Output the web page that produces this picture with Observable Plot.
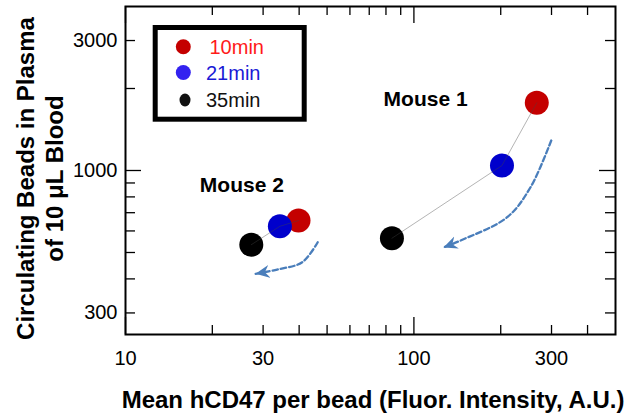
<!DOCTYPE html>
<html><head><meta charset="utf-8">
<script src="https://cdn.jsdelivr.net/npm/d3@7"></script>
<script src="https://cdn.jsdelivr.net/npm/@observablehq/plot@0.6"></script>
<style>
body{margin:0;background:#fff;font-family:"Liberation Sans",Arial,Helvetica,sans-serif}
#wrap{position:relative;width:629px;height:420px;overflow:hidden}
#legend{position:absolute;left:0;top:0;pointer-events:none}
</style></head><body><div id="wrap"></div><script>
// ---- data ----
const mice   = ["Mouse 1","Mouse 1","Mouse 1","Mouse 2","Mouse 2","Mouse 2"];
const times  = ["10min","21min","35min","10min","21min","35min"];
const hcd47  = [266.7, 202, 83.9, 39.8, 34.3, 27.3];      // Mean hCD47 per bead
const beads  = [1772, 1043, 564, 655, 624, 534];           // circulating beads

const timeColors = {"10min": "#c40000", "21min": "#0000cc", "35min": "#000000"};

const legendLabels     = ["10min", "21min", "35min"];
const legendTextColors = ["#ff1a1a", "#1a1ad6", "#111111"];
const legendDotColors  = ["#c40000", "#3322f0", "#111111"];

const mouseLabels = ["Mouse 1", "Mouse 2"];
const mouseLabelX = [78.5, 18.1];
const mouseLabelY = [1823, 883];

// trend arrows (dashed)
const arrowIds = ["a1","a1","a1","a1","a1","a2","a2","a2","a2"];
const arrowX   = [299.4, 253.7, 210.6, 145.1, 126.6, 46.4, 41.0, 33.57, 28.24];
const arrowY   = [1289, 868, 673.9, 553.4, 521.6, 545.5, 460.5, 433, 417.5];

const xLabelTicks = [10, 30, 100, 300];
const xMajorTicks = [10, 100];
const xMinorTicks = [20, 30, 40, 50, 60, 70, 80, 90, 200, 300, 400];
const yLabelTicks = [300, 1000, 3000];
const yMajorTicks = [1000];
const yMinorTicks = [300, 400, 500, 600, 700, 800, 900, 2000, 3000];

const xTitle = "Mean hCD47 per bead (Fluor. Intensity, A.U.)";
const yTitle = "Circulating Beads in Plasma\nof 10 \u03bcL Blood";

// ---- build ----
const points = mice.map((m, i) => ({mouse: m, time: times[i], x: hcd47[i], y: beads[i], color: timeColors[times[i]]}));
const arrows = arrowIds.map((id, i) => ({id, x: arrowX[i], y: arrowY[i]}));
const mouseText = mouseLabels.map((t, i) => ({t, x: mouseLabelX[i], y: mouseLabelY[i]}));

const W = 629, H = 420, mL = 125, mR = 14, mT = 6, mB = 86;
const fw = W - mL - mR, fh = H - mT - mB;

function arrowHead(color, context) {
  const doc = (context && context.document) || document;
  const ns = "http://www.w3.org/2000/svg";
  const m = doc.createElementNS(ns, "marker");
  m.setAttribute("viewBox", "-14 -7 15 14");
  m.setAttribute("markerWidth", "15");
  m.setAttribute("markerHeight", "14");
  m.setAttribute("markerUnits", "userSpaceOnUse");
  m.setAttribute("refX", "0");
  m.setAttribute("refY", "0");
  m.setAttribute("orient", "auto");
  const p = doc.createElementNS(ns, "path");
  p.setAttribute("d", "M0,0L-14,-6.5L-9.5,0L-14,6.5Z");
  p.setAttribute("fill", color);
  p.setAttribute("stroke", "none");
  p.setAttribute("stroke-dasharray", "none");
  m.appendChild(p);
  return m;
}

const chart = Plot.plot({
  width: W, height: H,
  marginLeft: mL, marginRight: mR, marginTop: mT, marginBottom: mB,
  style: {fontFamily: '"Liberation Sans", Arial, sans-serif', background: "#fff", color: "#000", overflow: "visible"},
  x: {type: "log", domain: [10, 500]},
  y: {type: "log", domain: [250, 4000]},
  marks: [
    // inward ticks on all four sides
    Plot.tickX(xMinorTicks, {x: d => d, insetTop: fh - 9, stroke: "#000", strokeWidth: 1.3}),
    Plot.tickX(xMajorTicks, {x: d => d, insetTop: fh - 17, stroke: "#000", strokeWidth: 1.3}),
    Plot.tickX(xMinorTicks, {x: d => d, insetBottom: fh - 9, stroke: "#000", strokeWidth: 1.3}),
    Plot.tickX(xMajorTicks, {x: d => d, insetBottom: fh - 17, stroke: "#000", strokeWidth: 1.3}),
    Plot.tickY(yMinorTicks, {y: d => d, insetRight: fw - 10, stroke: "#000", strokeWidth: 1.3}),
    Plot.tickY(yMajorTicks, {y: d => d, insetRight: fw - 16, stroke: "#000", strokeWidth: 1.3}),
    Plot.tickY(yMinorTicks, {y: d => d, insetLeft: fw - 10, stroke: "#000", strokeWidth: 1.3}),
    Plot.tickY(yMajorTicks, {y: d => d, insetLeft: fw - 16, stroke: "#000", strokeWidth: 1.3}),
    Plot.frame({stroke: "#000", strokeWidth: 2}),
    Plot.axisX(xLabelTicks, {tickSize: 0, tickPadding: 16, fontSize: 20, tickFormat: d => String(d), label: null}),
    Plot.axisY(yLabelTicks, {tickSize: 0, tickPadding: 8, fontSize: 20, tickFormat: d => String(d), label: null}),
    // axis titles
    Plot.text([xTitle], {text: d => d, frameAnchor: "bottom", textAnchor: "middle", dx: 2.5, dy: 66, fontSize: 24, fontWeight: "bold", lineAnchor: "middle"}),
    Plot.text([yTitle], {text: d => d, frameAnchor: "left", textAnchor: "middle", dx: -86.5, dy: 8, rotate: -90, fontSize: 24, fontWeight: "bold", lineAnchor: "middle", lineHeight: 1.2}),
    // dashed trend arrows
    Plot.line(arrows, {x: "x", y: "y", z: "id", curve: "catmull-rom", stroke: "#4a7ebb", strokeWidth: 2.3, strokeDasharray: "5.5,3", markerEnd: arrowHead}),
    // data points
    Plot.dot(points, {x: "x", y: "y", r: 12, fill: "color", stroke: "none"}),
    Plot.line(points, {x: "x", y: "y", z: "mouse", stroke: "#444", strokeOpacity: 0.4, strokeWidth: 1}),
    // mouse labels
    Plot.text(mouseText, {x: "x", y: "y", text: "t", textAnchor: "start", lineAnchor: "middle", fontSize: 21, fontWeight: "bold"})
  ]
});
const wrap = document.getElementById("wrap");
wrap.appendChild(chart);

// legend box (inside the plot, top-left)
const lg = d3.select(wrap).append("svg").attr("id", "legend").attr("width", W).attr("height", H);
lg.append("rect").attr("x", 155.2).attr("y", 27.5).attr("width", 149).attr("height", 91.7)
  .attr("fill", "#fff").attr("stroke", "#000").attr("stroke-width", 5);
const rows = [46.7, 72.5, 100];
const dotX = [183.3, 183.3, 185];
const rx = [7.5, 7.5, 5.5], ry = [7.5, 7.5, 6.5];
const textX = [209.5, 206, 206];
legendLabels.forEach((lab, i) => {
  lg.append("ellipse").attr("cx", dotX[i]).attr("cy", rows[i]).attr("rx", rx[i]).attr("ry", ry[i]).attr("fill", legendDotColors[i]);
  lg.append("text").attr("x", textX[i]).attr("y", rows[i]).attr("dy", "0.36em")
    .attr("font-size", 20).attr("fill", legendTextColors[i])
    .attr("font-family", '"Liberation Sans", Arial, sans-serif').text(lab);
});
</script></body></html>
